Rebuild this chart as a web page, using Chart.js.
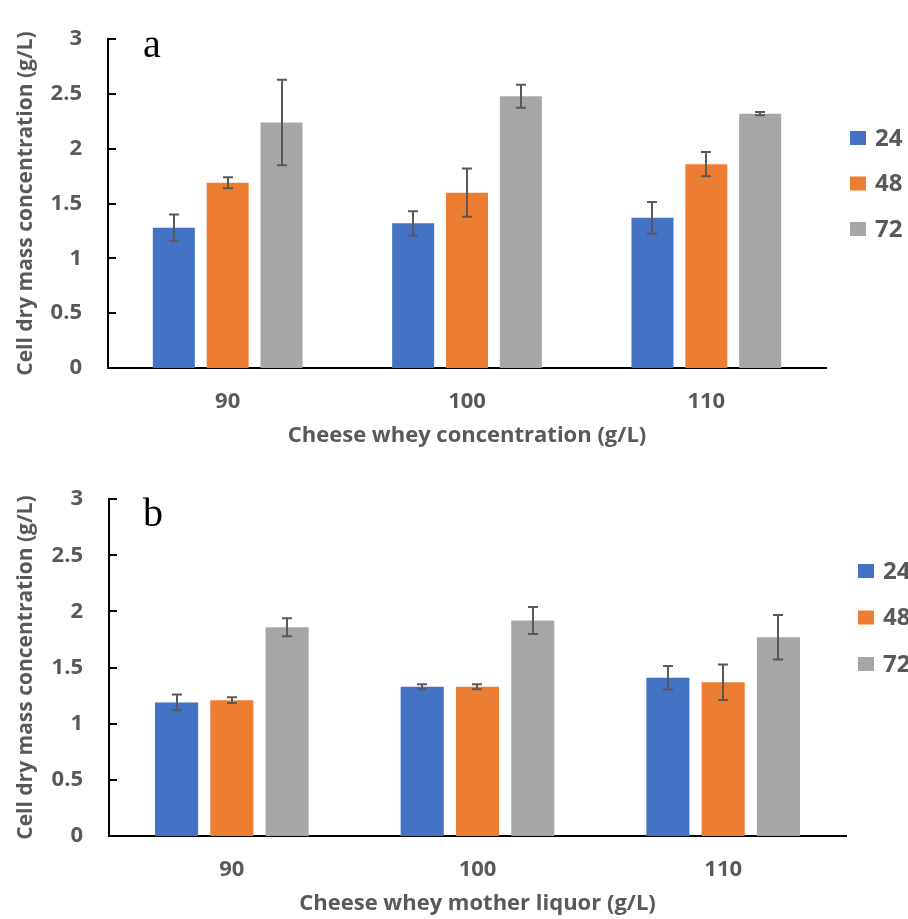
<!DOCTYPE html>
<html>
<head>
<meta charset="utf-8">
<script src="https://cdn.jsdelivr.net/npm/chart.js@4/dist/chart.umd.min.js"></script>
<style>
  html, body { margin: 0; padding: 0; background: #ffffff; overflow: hidden; }
  body { width: 908px; height: 919px; position: relative; }
  canvas { position: absolute; left: 0; }
  #chartA { top: 0px; }
  #chartB { top: 460px; }
</style>
</head>
<body>
<canvas id="chartA" width="908" height="455"></canvas>
<canvas id="chartB" width="908" height="459"></canvas>
<script>
// ---------- data ----------
const categories = ['90', '100', '110'];
const seriesLabels = ['24', '48', '72'];
const yTickLabels = ['0', '0.5', '1', '1.5', '2', '2.5', '3'];

// panel a: Cheese whey concentration
const a24 = [1.28, 1.32, 1.37];
const a48 = [1.69, 1.60, 1.86];
const a72 = [2.24, 2.48, 2.32];
const a24err = [0.12, 0.11, 0.145];
const a48err = [0.05, 0.22, 0.11];
const a72err = [0.39, 0.105, 0.015];

// panel b: Cheese whey mother liquor
const b24 = [1.19, 1.33, 1.41];
const b48 = [1.21, 1.33, 1.37];
const b72 = [1.86, 1.92, 1.77];
const b24err = [0.07, 0.022, 0.105];
const b48err = [0.025, 0.022, 0.158];
const b72err = [0.08, 0.12, 0.198];

const titleA = 'Cheese whey concentration (g/L)';
const titleB = 'Cheese whey mother liquor (g/L)';
const yTitle = 'Cell dry mass concentration (g/L)';

// ---------- styles ----------
const BLUE = '#4472C4';
const ORANGE = '#ED7D31';
const TEXT = '#595959';

function grayPattern() {
  const c = document.createElement('canvas');
  c.width = 4; c.height = 4;
  const g = c.getContext('2d');
  const vals = [
    [160, 172, 164, 176],
    [170, 158, 174, 162],
    [163, 175, 159, 171],
    [174, 161, 169, 157]
  ];
  for (let y = 0; y < 4; y++) for (let x = 0; x < 4; x++) {
    const v = vals[y][x];
    g.fillStyle = `rgb(${v},${v},${v})`;
    g.fillRect(x, y, 1, 1);
  }
  return g.createPattern(c, 'repeat');
}
const GRAY = grayPattern();

Chart.defaults.font.family = "'Open Sans', 'DejaVu Sans', sans-serif";
Chart.defaults.font.weight = 'bold';
Chart.defaults.color = TEXT;

// error bars, inward ticks, legend and panel letter
const extrasPlugin = {
  id: 'extras',
  afterDatasetsDraw(chart, args, opts) {
    const ctx = chart.ctx;
    const ys = chart.scales.y;
    ctx.save();
    ctx.strokeStyle = TEXT;
    ctx.lineWidth = 2;
    chart.data.datasets.forEach((ds, di) => {
      const meta = chart.getDatasetMeta(di);
      meta.data.forEach((bar, i) => {
        const v = ds.data[i];
        const e = ds.errors[i];
        const yt = ys.getPixelForValue(v + e);
        const yb = ys.getPixelForValue(v - e);
        const x = Math.round(bar.x);
        ctx.beginPath();
        ctx.moveTo(x, yt); ctx.lineTo(x, yb);
        ctx.moveTo(x - 5, yt); ctx.lineTo(x + 5, yt);
        ctx.moveTo(x - 5, yb); ctx.lineTo(x + 5, yb);
        ctx.stroke();
      });
    });
    ctx.restore();
  },
  afterDraw(chart, args, opts) {
    const ctx = chart.ctx;
    const ys = chart.scales.y;
    const area = chart.chartArea;
    ctx.save();
    // inward ticks on the y axis
    ctx.strokeStyle = '#000000';
    ctx.lineWidth = 2;
    ys.ticks.forEach((t, i) => {
      const y = Math.round(ys.getPixelForTick(i));
      ctx.beginPath();
      ctx.moveTo(area.left, y);
      ctx.lineTo(area.left + 8, y);
      ctx.stroke();
    });
    // legend
    ctx.font = "bold 24px 'Open Sans', 'DejaVu Sans', sans-serif";
    ctx.textBaseline = 'middle';
    ctx.textAlign = 'left';
    chart.data.datasets.forEach((ds, di) => {
      const cy = opts.legendY + di * opts.legendGap;
      ctx.fillStyle = ds.backgroundColor;
      ctx.fillRect(opts.legendX, cy - 7, 16, 14);
      ctx.fillStyle = TEXT;
      ctx.fillText(ds.label, opts.legendX + 25, cy + 1);
    });
    // panel letter
    ctx.fillStyle = '#000000';
    ctx.font = "40px 'Liberation Serif', 'Times New Roman', serif";
    ctx.textBaseline = 'alphabetic';
    ctx.fillText(opts.letter, opts.letterX, opts.letterY);
    ctx.restore();
  }
};

function makeChart(id, s24, s48, s72, e24, e48, e72, xTitle, cfg) {
  const ctx = document.getElementById(id).getContext('2d');
  return new Chart(ctx, {
    type: 'bar',
    data: {
      labels: categories,
      datasets: [
        { label: seriesLabels[0], data: s24, errors: e24, backgroundColor: BLUE },
        { label: seriesLabels[1], data: s48, errors: e48, backgroundColor: ORANGE },
        { label: seriesLabels[2], data: s72, errors: e72, backgroundColor: GRAY }
      ]
    },
    plugins: [extrasPlugin],
    options: {
      responsive: false,
      animation: false,
      devicePixelRatio: 1,
      layout: { padding: { left: 0, top: cfg.padTop, right: cfg.padRight, bottom: 0 } },
      datasets: { bar: { categoryPercentage: 0.675, barPercentage: 0.78, borderWidth: 0 } },
      plugins: {
        legend: { display: false },
        tooltip: { enabled: false },
        extras: cfg.extras
      },
      scales: {
        x: {
          grid: { display: false, drawTicks: false },
          border: { display: true, color: '#000000', width: 2 },
          ticks: { padding: 21, font: { size: 22, weight: 'bold' }, color: TEXT },
          title: { display: true, text: xTitle, font: { size: 22, weight: 'bold' }, color: TEXT,
                   padding: { top: 0, bottom: cfg.xTitlePad } },
          afterFit(scale) { scale.height = cfg.xHeight; }
        },
        y: {
          min: 0, max: 3,
          grid: { display: false, drawTicks: false },
          border: { display: true, color: '#000000', width: 2 },
          ticks: { stepSize: 0.5, padding: 26, font: { size: 22, weight: 'bold' }, color: TEXT,
                   callback: (v, i) => yTickLabels[i] },
          title: { display: true, text: yTitle, font: { size: 21, weight: 'bold' }, color: TEXT,
                   padding: { top: 13, bottom: 0 } },
          afterFit(scale) { scale.width = cfg.yWidth; }
        }
      }
    }
  });
}

makeChart('chartA', a24, a48, a72, a24err, a48err, a72err, titleA, {
  padTop: 23, padRight: 82, xHeight: 87, yWidth: 108, xTitlePad: 6,
  extras: { legendX: 850, legendY: 138, legendGap: 45.5, letter: 'a', letterX: 143, letterY: 57 }
});
makeChart('chartB', b24, b48, b72, b24err, b48err, b72err, titleB, {
  padTop: 22, padRight: 62, xHeight: 83, yWidth: 109, xTitlePad: 2,
  extras: { legendX: 858, legendY: 111, legendGap: 46.5, letter: 'b', letterX: 143, letterY: 66 }
});
</script>
</body>
</html>
